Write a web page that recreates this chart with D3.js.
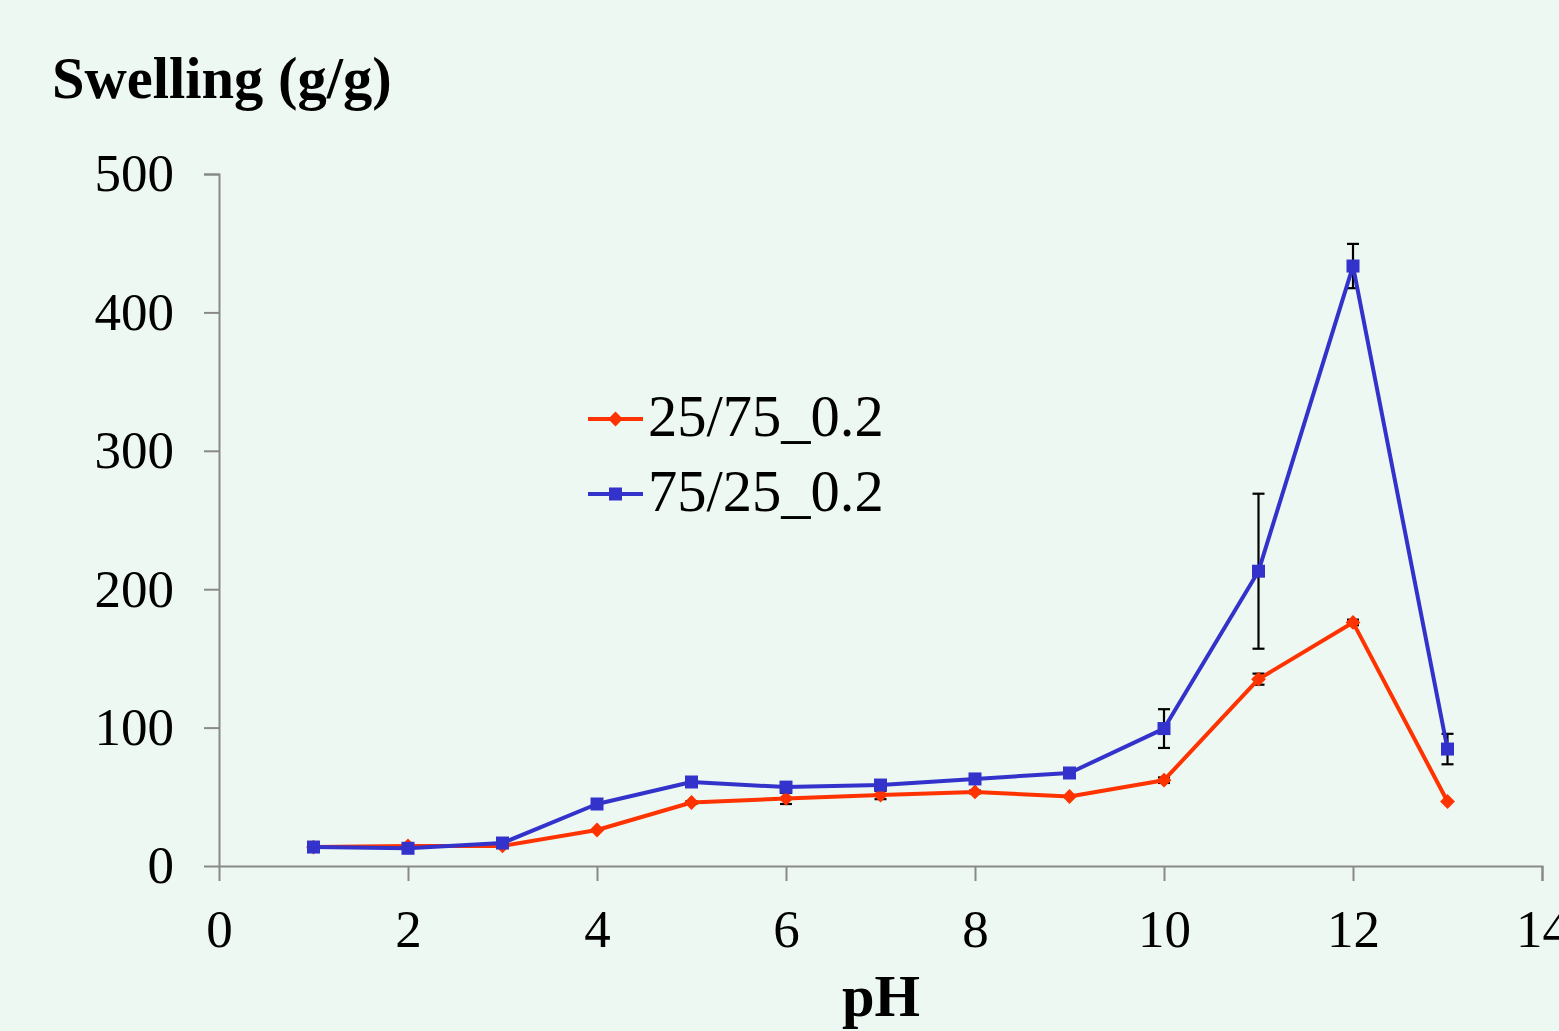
<!DOCTYPE html>
<html><head><meta charset="utf-8">
<script src="https://cdn.jsdelivr.net/npm/d3@7"></script>
<style>
html,body{margin:0;padding:0;background:#eef8f2;overflow:hidden;}
svg{display:block;}
</style></head>
<body>
<svg id="chart" width="1559" height="1031"></svg>
<script>
const pH = [1,2,3,4,5,6,7,8,9,10,11,12,13];
const seriesNames = ["25/75_0.2","75/25_0.2"];
const red = [13.7,14.5,14.5,26,45.9,48.8,51.3,53.5,50.2,62,135,176,46.6];
const redErr = [0,0,0,0,1,4,3,1,0,2,4,2,0];
const blue = [13.7,12.8,16.6,44.8,60.7,57,58.5,62.9,67.2,99.3,213,433.5,84.5];
const blueErr = [0,0,0,0,3,0,0,0,0,14,56,16,11];
const xTicks = [0,2,4,6,8,10,12,14];
const yTicks = [0,100,200,300,400,500];

const svg = d3.select("#chart");
const x = d3.scaleLinear().domain([0,14]).range([219,1542]);
const y = d3.scaleLinear().domain([0,500]).range([866,174]);
const font = "'Liberation Serif','Times New Roman',serif";
const axisColor = "#898989";

// axes
const yAxis = svg.append("g").attr("transform","translate(219,0)")
  .call(d3.axisLeft(y).tickValues(yTicks).tickSize(15).tickPadding(30));
const xAxis = svg.append("g").attr("transform","translate(0,866)")
  .call(d3.axisBottom(x).tickValues(xTicks).tickSize(15).tickPadding(28));
[yAxis,xAxis].forEach(a=>{
  a.select(".domain").attr("stroke",axisColor).attr("stroke-width",2);
  a.selectAll(".tick line").attr("stroke",axisColor).attr("stroke-width",2);
  a.selectAll(".tick text").attr("fill","#000").attr("font-family",font).attr("font-size",53);
});
yAxis.select(".domain").attr("d","M-15,174.5H0.5V866.5");
xAxis.select(".domain").attr("d","M219,0.5H1542.5V15");
yAxis.selectAll(".tick text").attr("dy","0.32em");

const series = [
  {name:seriesNames[0], vals:red, err:redErr, color:"#ff3300", shape:"diamond"},
  {name:seriesNames[1], vals:blue, err:blueErr, color:"#3333cc", shape:"square"}
];

const line = d3.line().x((d,i)=>x(pH[i])).y(d=>y(d));

function marker(g, shape, color, cx, cy){
  if(shape==="square"){
    g.append("rect").attr("x",cx-6.5).attr("y",cy-6.5).attr("width",13).attr("height",13).attr("fill",color);
  } else {
    g.append("path").attr("d",d3.symbol().type(d3.symbolDiamond2).size(140)()).attr("transform",`translate(${cx},${cy})`).attr("fill",color);
  }
}

series.forEach(s=>{
  const eg = svg.append("g").attr("stroke","#000").attr("stroke-width",2.2);
  s.vals.forEach((v,i)=>{
    const e = s.err[i];
    if(!e) return;
    const cx = x(pH[i]);
    eg.append("line").attr("x1",cx).attr("x2",cx).attr("y1",y(v+e)).attr("y2",y(v-e));
    eg.append("line").attr("x1",cx-6).attr("x2",cx+6).attr("y1",y(v+e)).attr("y2",y(v+e));
    eg.append("line").attr("x1",cx-6).attr("x2",cx+6).attr("y1",y(v-e)).attr("y2",y(v-e));
  });
});
series.forEach(s=>{
  svg.append("path").datum(s.vals).attr("d",line).attr("fill","none")
    .attr("stroke",s.color).attr("stroke-width",4).attr("stroke-linejoin","round");
  const mg = svg.append("g");
  s.vals.forEach((v,i)=>marker(mg,s.shape,s.color,x(pH[i]),y(v)));
});

// legend
const legY = [419,494];
series.forEach((s,i)=>{
  const g = svg.append("g");
  g.append("line").attr("x1",588).attr("x2",643).attr("y1",legY[i]).attr("y2",legY[i])
    .attr("stroke",s.color).attr("stroke-width",4);
  marker(g,s.shape,s.color,615.5,legY[i]);
  g.append("text").attr("x",648).attr("y",legY[i]+17).attr("font-family",font)
    .attr("font-size",58.5).attr("fill","#000").text(s.name);
});

// titles
svg.append("text").attr("x",52).attr("y",98).attr("font-family",font).attr("font-weight","bold")
  .attr("font-size",58.5).attr("fill","#000").text("Swelling (g/g)");
svg.append("text").attr("x",881).attr("y",1016).attr("text-anchor","middle").attr("font-family",font)
  .attr("font-weight","bold").attr("font-size",58.5).attr("fill","#000").text("pH");
</script>
</body></html>
